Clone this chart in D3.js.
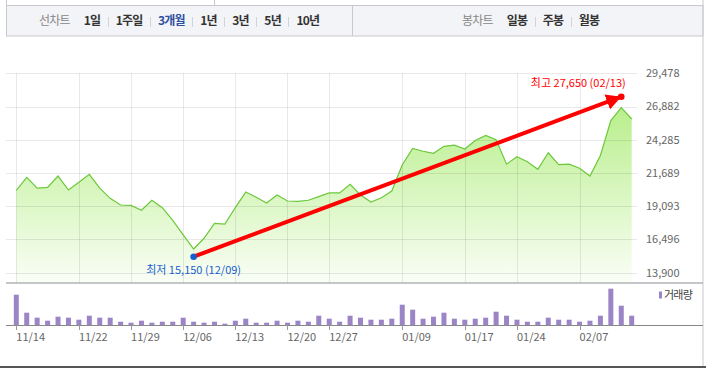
<!DOCTYPE html>
<html>
<head>
<meta charset="utf-8">
<script src="https://cdn.jsdelivr.net/npm/d3@7"></script>
<style>
html, body { margin: 0; padding: 0; background: #fff; }
svg { display: block; font-family: "Noto Sans CJK KR", "Noto Sans", sans-serif; }
</style>
</head>
<body>
<svg id="chart" width="706" height="368"></svg>
<script>
// data (3 month daily chart)
const closes = [
  20340, 21350, 20500, 20570, 21450, 20360, 20960, 21590, 20500, 19710,
  19190, 19160, 18780, 19560, 18980, 17990, 16850, 15750, 16590, 17760,
  17700, 18990, 20200, 19790, 19350, 19970, 19500, 19480, 19560, 19840,
  20130, 20130, 20810, 19970, 19420, 19760, 20280, 22310, 23600, 23390,
  23230, 23770, 23860, 23560, 24230, 24620, 24290, 22380, 22960, 22570,
  21980, 23270, 22340, 22380, 22060, 21450, 23060, 25790, 26800, 25910
];
const volumes = [
  3030, 1230, 730, 430, 830, 730, 530, 930, 730, 730,
  330, 230, 430, 230, 330, 330, 730, 330, 230, 330,
  130, 430, 630, 230, 230, 430, 230, 430, 330, 930,
  630, 330, 930, 730, 530, 530, 630, 2030, 1530, 630,
  830, 1230, 630, 530, 630, 730, 1330, 930, 530, 330,
  330, 730, 530, 530, 330, 430, 930, 3630, 1930, 930
];
const tickIndex = [0, 6, 11, 16, 21, 26, 30, 37, 43, 48, 54];
const tickLabels = ["11/14", "11/22", "11/29", "12/06", "12/13", "12/20", "12/27", "01/09", "01/17", "01/24", "02/07"];
const yTicks = [13900, 16496, 19093, 21689, 24285, 26882, 29478];
const lineTabs = ["1일", "1주일", "3개월", "1년", "3년", "5년", "10년"];
const candleTabs = ["일봉", "주봉", "월봉"];
const lowMark = [17, 15150, "최저 15,150 (12/09)"];
const highMark = [58, 27650, "최고 27,650 (02/13)"];

const svg = d3.select("#chart");
const W = 706, H = 368;
const plotTop = 73.3, plotBottom = 282.7, gridRight = 637;
const volBase = 325;

const x = d3.scaleLinear().domain([0, closes.length - 1]).range([16.3, 631.7]);
const y = d3.scaleLinear().domain([13900, 29478]).range([272.7, 73.3]);
const vy = d3.scaleLinear().domain([0, 4000]).range([volBase, volBase - 40]);

// ---- tab bar ----
svg.append("rect").attr("x", 6.5).attr("y", 5.5).attr("width", 696.5).attr("height", 30.5)
  .attr("fill", "#f3f4f7").attr("stroke", "#c9c9cc");
svg.append("line").attr("x1", 6.5).attr("x2", 6.5).attr("y1", 0).attr("y2", 6).attr("stroke", "#c9c9cc");
svg.append("line").attr("x1", 214.5).attr("x2", 214.5).attr("y1", 0).attr("y2", 5).attr("stroke", "#c9c9cc");
svg.append("line").attr("x1", 352.5).attr("x2", 352.5).attr("y1", 6).attr("y2", 36).attr("stroke", "#c9c9cc");
svg.append("line").attr("x1", 703).attr("x2", 703).attr("y1", 0).attr("y2", H).attr("stroke", "#c9c9cc");

function tabRow(startX, title, tabs, active) {
  let cx = startX;
  const t = svg.append("text").attr("x", cx).attr("y", 21).attr("dy", "0.35em")
    .attr("font-size", 12).attr("letter-spacing", -0.8).attr("fill", "#888").text(title);
  cx += t.node().getComputedTextLength() + 14;
  tabs.forEach((d, i) => {
    const tt = svg.append("text").attr("x", cx).attr("y", 21).attr("dy", "0.35em")
      .attr("font-size", 12).attr("font-weight", "bold").attr("letter-spacing", -0.8)
      .attr("fill", d === active ? "#2f4f9f" : "#333").text(d);
    cx += tt.node().getComputedTextLength();
    if (i < tabs.length - 1) {
      cx += 7.5;
      svg.append("line").attr("x1", Math.round(cx) + 0.5).attr("x2", Math.round(cx) + 0.5)
        .attr("y1", 17).attr("y2", 27).attr("stroke", "#d4d4d8");
      cx += 8;
    }
  });
}
tabRow(39, "선차트", lineTabs, "3개월");
tabRow(462, "봉차트", candleTabs, null);

// ---- price area ----
const defs = svg.append("defs");
const grad = defs.append("linearGradient").attr("id", "fillGrad")
  .attr("gradientUnits", "userSpaceOnUse").attr("x1", 0).attr("x2", 0)
  .attr("y1", 100).attr("y2", plotBottom);
grad.append("stop").attr("offset", 0).attr("stop-color", "#b6ee88");
grad.append("stop").attr("offset", 1).attr("stop-color", "#fafef6");

defs.append("marker").attr("id", "arrow").attr("markerUnits", "userSpaceOnUse")
  .attr("viewBox", "0 0 15 16").attr("refX", 15).attr("refY", 8)
  .attr("markerWidth", 15).attr("markerHeight", 16).attr("orient", "auto")
  .append("path").attr("d", "M0,0L15,8L0,16Z").attr("fill", "#ff0000");

const area = d3.area().x((d, i) => x(i)).y0(plotBottom).y1(d => y(d));
const line = d3.line().x((d, i) => x(i)).y(d => y(d));

svg.append("path").datum(closes).attr("d", area).attr("fill", "url(#fillGrad)");

// grid
svg.append("g").selectAll("line").data(yTicks).join("line")
  .attr("x1", 6).attr("x2", gridRight)
  .attr("y1", d => Math.round(y(d)) + 0.5).attr("y2", d => Math.round(y(d)) + 0.5)
  .attr("stroke", "rgba(0,0,0,0.085)");
svg.append("g").selectAll("line").data(tickIndex).join("line")
  .attr("x1", d => Math.round(x(d)) + 0.5).attr("x2", d => Math.round(x(d)) + 0.5)
  .attr("y1", plotTop).attr("y2", plotBottom)
  .attr("stroke", "rgba(0,0,0,0.085)");

svg.append("path").datum(closes).attr("d", line)
  .attr("fill", "none").attr("stroke", "#6cc83a").attr("stroke-width", 1.2);

// y labels
svg.append("g").selectAll("text").data(yTicks).join("text")
  .attr("x", 646).attr("y", d => y(d)).attr("dy", "0.35em")
  .attr("font-size", 11).attr("fill", "#666")
  .text(d => d3.format(",")(d));

// axis lines
svg.append("line").attr("x1", 6).attr("x2", 703).attr("y1", plotBottom + 0.3).attr("y2", plotBottom + 0.3)
  .attr("stroke", "#8a8e96").attr("stroke-width", 1.2);

// high / low markers and arrow
const lx = x(lowMark[0]), ly = y(lowMark[1]);
const hx = x(highMark[0]), hy = y(highMark[1]);
svg.append("line").attr("x1", lx).attr("y1", ly).attr("x2", hx).attr("y2", hy)
  .attr("stroke", "#ff0000").attr("stroke-width", 4).attr("marker-end", "url(#arrow)");
svg.append("circle").attr("cx", lx).attr("cy", ly).attr("r", 3.3).attr("fill", "#1a5fd0");
svg.append("circle").attr("cx", hx).attr("cy", hy).attr("r", 3.3).attr("fill", "#ff0000");
svg.append("text").attr("x", lx).attr("y", ly + 13.5).attr("dy", "0.35em")
  .attr("text-anchor", "middle").attr("font-size", 11).attr("fill", "#1a5fd0").text(lowMark[2]);
svg.append("text").attr("x", hx + 4.5).attr("y", hy - 14).attr("dy", "0.35em")
  .attr("text-anchor", "end").attr("font-size", 11).attr("fill", "#ff0000").text(highMark[2]);

// ---- volume ----
svg.append("g").selectAll("rect").data(volumes).join("rect")
  .attr("x", (d, i) => x(i) - 2.5).attr("width", 5)
  .attr("y", d => vy(d)).attr("height", d => volBase - vy(d))
  .attr("fill", "#9b85c6");
svg.append("line").attr("x1", 6).attr("x2", 703).attr("y1", volBase + 0.5).attr("y2", volBase + 0.5)
  .attr("stroke", "#888");
svg.append("g").selectAll("line").data(tickIndex).join("line")
  .attr("x1", d => Math.round(x(d)) + 0.5).attr("x2", d => Math.round(x(d)) + 0.5)
  .attr("y1", volBase).attr("y2", volBase + 5).attr("stroke", "#999");
svg.append("g").selectAll("text").data(tickIndex).join("text")
  .attr("x", d => x(d)).attr("y", 337).attr("dy", "0.35em")
  .attr("font-size", 11).attr("fill", "#666")
  .text((d, i) => tickLabels[i]);

// legend
svg.append("rect").attr("x", 659).attr("y", 291.5).attr("width", 3).attr("height", 7).attr("fill", "#9b85c6");
svg.append("text").attr("x", 664).attr("y", 295).attr("dy", "0.35em")
  .attr("font-size", 11).attr("letter-spacing", -0.8).attr("fill", "#444").text("거래량");

// bottom rule
svg.append("rect").attr("x", 0).attr("y", 366).attr("width", W).attr("height", 2).attr("fill", "#555");
</script>
</body>
</html>
